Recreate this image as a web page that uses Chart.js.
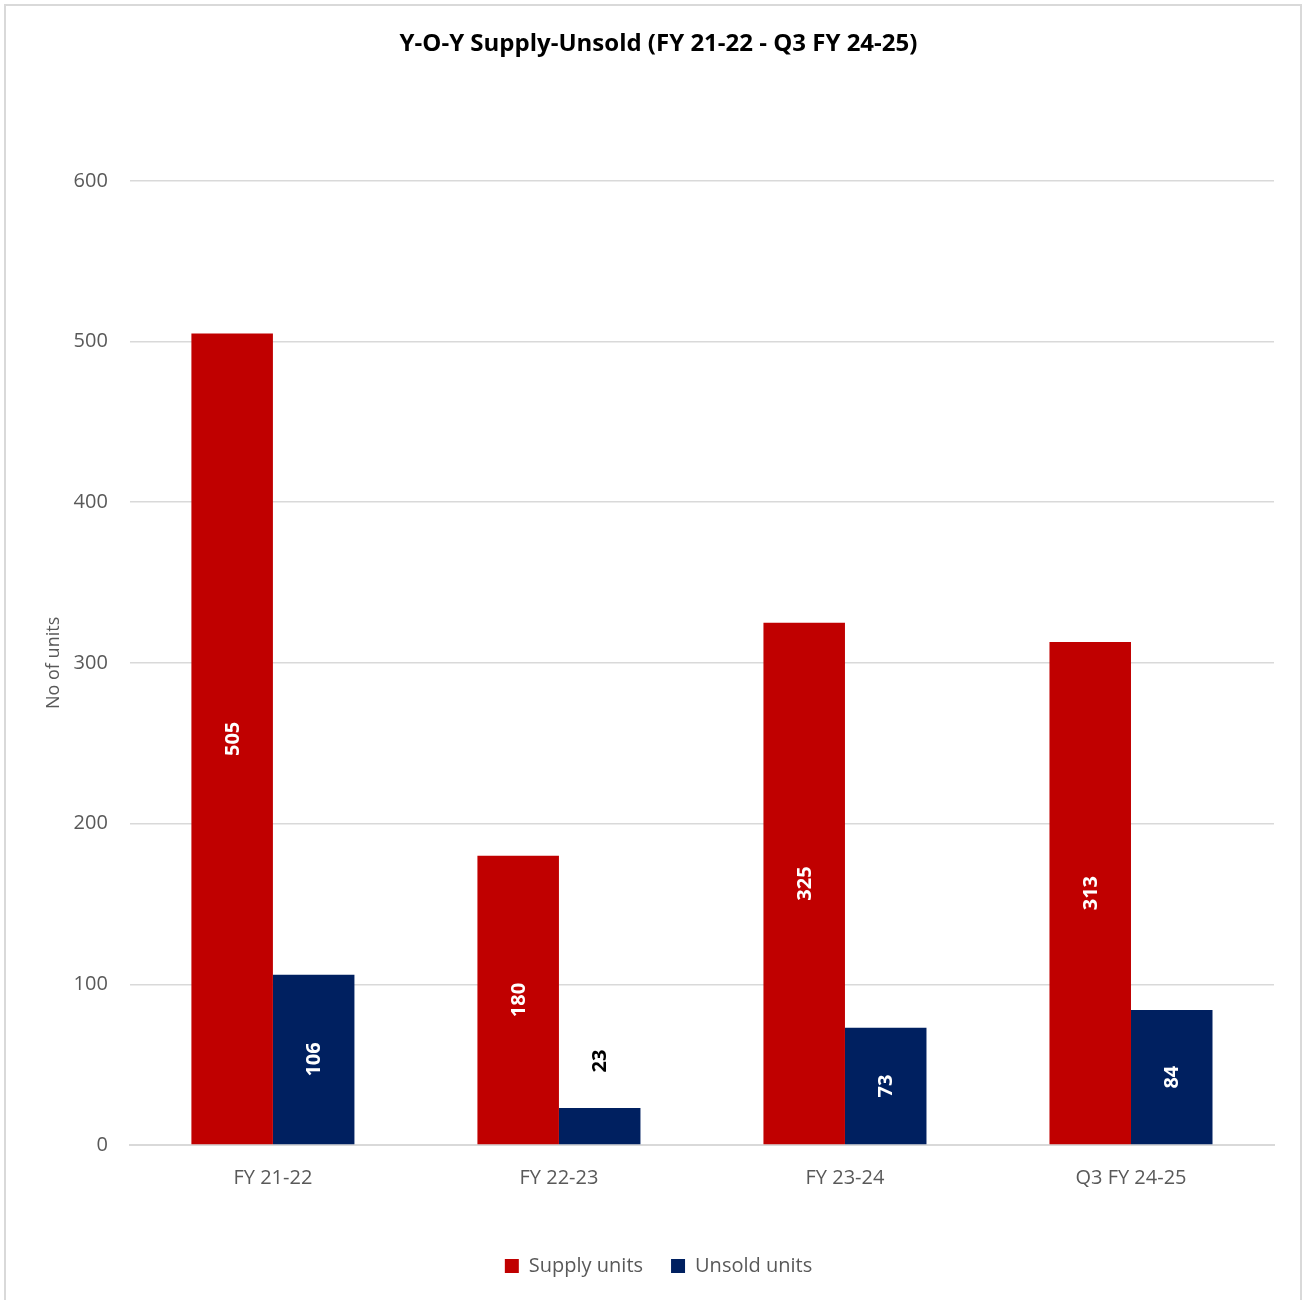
<!DOCTYPE html>
<html>
<head>
<meta charset="utf-8">
<script src="https://cdn.jsdelivr.net/npm/chart.js@4.4.1/dist/chart.umd.min.js"></script>
<style>
  html, body { margin: 0; padding: 0; background: #fff; }
  #frame {
    position: absolute; left: 4px; top: 4px;
    width: 1298px; height: 1310px;
    border: 2px solid #d9d9d9; box-sizing: border-box;
  }
  #wrap { position: absolute; left: 0; top: 0; width: 1306px; height: 1300px; }
</style>
</head>
<body>
<div id="frame"></div>
<div id="wrap"><canvas id="chart"></canvas></div>
<script>
// chart data
const categories = ['FY 21-22', 'FY 22-23', 'FY 23-24', 'Q3 FY 24-25'];
const supplyUnits = [505, 180, 325, 313];
const unsoldUnits = [106, 23, 73, 84];
const yTicks = [0, 100, 200, 300, 400, 500, 600];

const FONT = "'Open Sans', 'Noto Sans', sans-serif";

// draws the rotated value labels inside (or above, when too short) each bar
const barLabels = {
    id: 'barLabels',
    afterDatasetsDraw(chart) {
        const ctx = chart.ctx;
        ctx.save();
        ctx.font = 'bold 20px ' + FONT;
        ctx.textAlign = 'center';
        ctx.textBaseline = 'middle';
        chart.data.datasets.forEach((ds, di) => {
            chart.getDatasetMeta(di).data.forEach((bar, i) => {
                const txt = String(ds.data[i]);
                const h = bar.base - bar.y;
                const tw = ctx.measureText(txt).width;
                let y, color;
                if (h > tw + 16) {
                    y = (bar.y + bar.base) / 2;
                    color = '#ffffff';
                } else {
                    y = bar.y - 47;
                    color = '#000000';
                }
                ctx.save();
                ctx.translate(bar.x, y);
                ctx.rotate(-Math.PI / 2);
                ctx.fillStyle = color;
                ctx.fillText(txt, 0, 1);
                ctx.restore();
            });
        });
        ctx.restore();
    }
};

const ctx = document.getElementById('chart').getContext('2d');
new Chart(ctx, {
    type: 'bar',
    data: {
        labels: categories,
        datasets: [
            {
                label: 'Supply units',
                data: supplyUnits,
                backgroundColor: '#C00000',
                barPercentage: 1.0,
                categoryPercentage: 0.57
            },
            {
                label: 'Unsold units',
                data: unsoldUnits,
                backgroundColor: '#002060',
                barPercentage: 1.0,
                categoryPercentage: 0.57
            }
        ]
    },
    options: {
        responsive: true,
        maintainAspectRatio: false,
        animation: false,
        layout: { padding: { left: 43, right: 32, top: 20, bottom: 14 } },
        plugins: {
            title: {
                display: true,
                text: 'Y-O-Y Supply-Unsold (FY 21-22 - Q3 FY 24-25)',
                color: '#000000',
                font: { family: FONT, size: 24, weight: 'bold' },
                padding: { top: 10, bottom: 122 }
            },
            legend: {
                position: 'bottom',
                labels: {
                    color: '#595959',
                    font: { family: FONT, size: 20 },
                    boxWidth: 14,
                    boxHeight: 14,
                    padding: 28
                }
            },
            tooltip: { enabled: false }
        },
        scales: {
            x: {
                grid: { display: false },
                border: { color: '#d9d9d9', width: 2 },
                ticks: {
                    color: '#595959',
                    font: { family: FONT, size: 20 },
                    padding: 13
                },
                afterFit(scale) { scale.height += 25; }
            },
            y: {
                min: 0,
                max: 600,
                afterBuildTicks(axis) {
                    axis.ticks = yTicks.map(v => ({ value: v }));
                },
                afterFit(scale) { scale.width -= 17; },
                grid: { color: '#d9d9d9', lineWidth: 1.5, drawTicks: false },
                border: { display: false },
                ticks: {
                    color: '#595959',
                    font: { family: FONT, size: 20 },
                    padding: 22
                },
                title: {
                    display: true,
                    text: 'No of units',
                    color: '#595959',
                    font: { family: FONT, size: 18 },
                    padding: { top: 0, bottom: 4 }
                }
            }
        }
    },
    plugins: [barLabels]
});
</script>
</body>
</html>
